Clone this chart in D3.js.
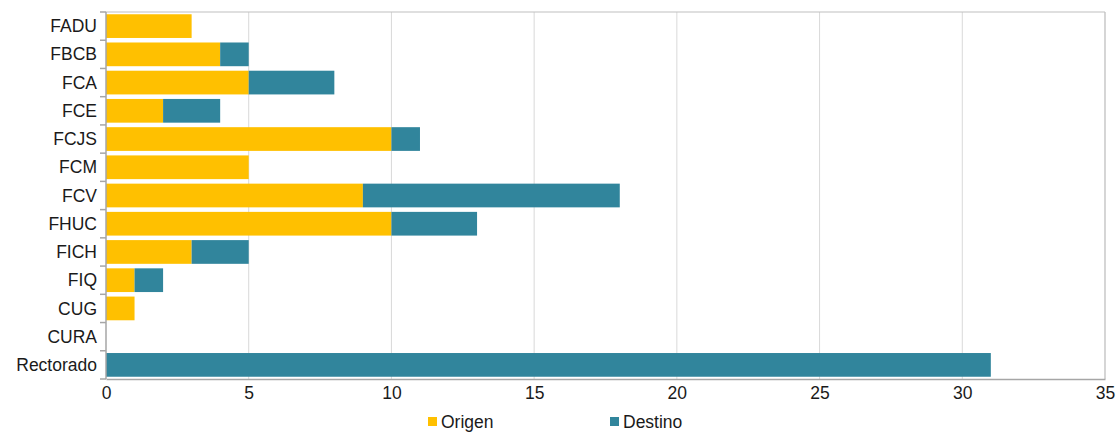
<!DOCTYPE html>
<html>
<head>
<meta charset="utf-8">
<script src="https://cdn.jsdelivr.net/npm/d3@7"></script>
<style>
  body { margin: 0; background: #fff; }
  text { font-family: "Liberation Sans", Arial, sans-serif; fill: #1a1a1a; }
</style>
</head>
<body>
<script>
const width = 1119;
const height = 432;

const categories = ["FADU", "FBCB", "FCA", "FCE", "FCJS", "FCM", "FCV", "FHUC", "FICH", "FIQ", "CUG", "CURA", "Rectorado"];
const origen = [3, 4, 5, 2, 10, 5, 9, 10, 3, 1, 1, 0, 0];
const destino = [0, 1, 3, 2, 1, 0, 9, 3, 2, 1, 0, 0, 31];
const seriesNames = ["Origen", "Destino"];
const colors = ["#ffc000", "#31859c"];
const xTicks = [0, 5, 10, 15, 20, 25, 30, 35];

const margin = { top: 12, right: 14, bottom: 53, left: 106 };
const fontSize = "17.5px";

const x = d3.scaleLinear().domain([0, 35]).range([margin.left, width - margin.right]);
const y = d3.scaleBand().domain(categories).range([margin.top, height - margin.bottom]).paddingInner(0.16).paddingOuter(0.08);

const svg = d3.select("body").append("svg").attr("width", width).attr("height", height);

// gridlines
svg.append("g")
  .selectAll("line")
  .data(xTicks.slice(1))
  .join("line")
  .attr("x1", d => x(d)).attr("x2", d => x(d))
  .attr("y1", margin.top).attr("y2", height - margin.bottom)
  .attr("stroke", "#d9d9d9");

// frame top/right
svg.append("path")
  .attr("d", `M${x(0)},${margin.top}H${x(35)}V${height - margin.bottom}`)
  .attr("fill", "none").attr("stroke", "#bfbfbf");

const rows = categories.map((c, i) => ({ cat: c, o: origen[i], d: destino[i] }));
const stack = d3.stack().keys(["o", "d"])(rows);

svg.append("g")
  .selectAll("g")
  .data(stack)
  .join("g")
  .attr("fill", (d, i) => colors[i])
  .selectAll("rect")
  .data(d => d)
  .join("rect")
  .attr("x", d => x(d[0]))
  .attr("width", d => x(d[1]) - x(d[0]))
  .attr("y", d => y(d.data.cat))
  .attr("height", y.bandwidth());

// x axis
const xAxis = svg.append("g")
  .attr("transform", `translate(0,${height - margin.bottom})`)
  .call(d3.axisBottom(x).tickValues(xTicks).tickSize(0).tickPadding(8));
xAxis.select(".domain").attr("stroke", "#a6a6a6").attr("stroke-width", 1.5);
xAxis.selectAll("text").style("font-size", fontSize);

// y axis
const bounds = d3.range(categories.length + 1).map(i => margin.top + i * (height - margin.bottom - margin.top) / categories.length);
svg.append("line")
  .attr("x1", x(0)).attr("x2", x(0))
  .attr("y1", margin.top).attr("y2", height - margin.bottom)
  .attr("stroke", "#a6a6a6").attr("stroke-width", 1.5);
svg.append("g")
  .selectAll("line")
  .data(bounds)
  .join("line")
  .attr("x1", x(0) - 6).attr("x2", x(0))
  .attr("y1", d => d).attr("y2", d => d)
  .attr("stroke", "#a6a6a6").attr("stroke-width", 1.5);
svg.append("g")
  .selectAll("text")
  .data(categories)
  .join("text")
  .attr("x", x(0) - 9)
  .attr("y", d => y(d) + y.bandwidth() / 2)
  .attr("dy", "0.35em")
  .attr("text-anchor", "end")
  .style("font-size", fontSize)
  .text(d => d);

// legend
const legendX = [428, 610];
const legend = svg.append("g")
  .selectAll("g")
  .data(seriesNames)
  .join("g")
  .attr("transform", (d, i) => `translate(${legendX[i]},${height - 10})`);
legend.append("rect")
  .attr("x", 0).attr("y", -5).attr("width", 9).attr("height", 9)
  .attr("fill", (d, i) => colors[i]);
legend.append("text")
  .attr("x", 13).attr("dy", "0.35em")
  .style("font-size", fontSize)
  .text(d => d);
</script>
</body>
</html>
